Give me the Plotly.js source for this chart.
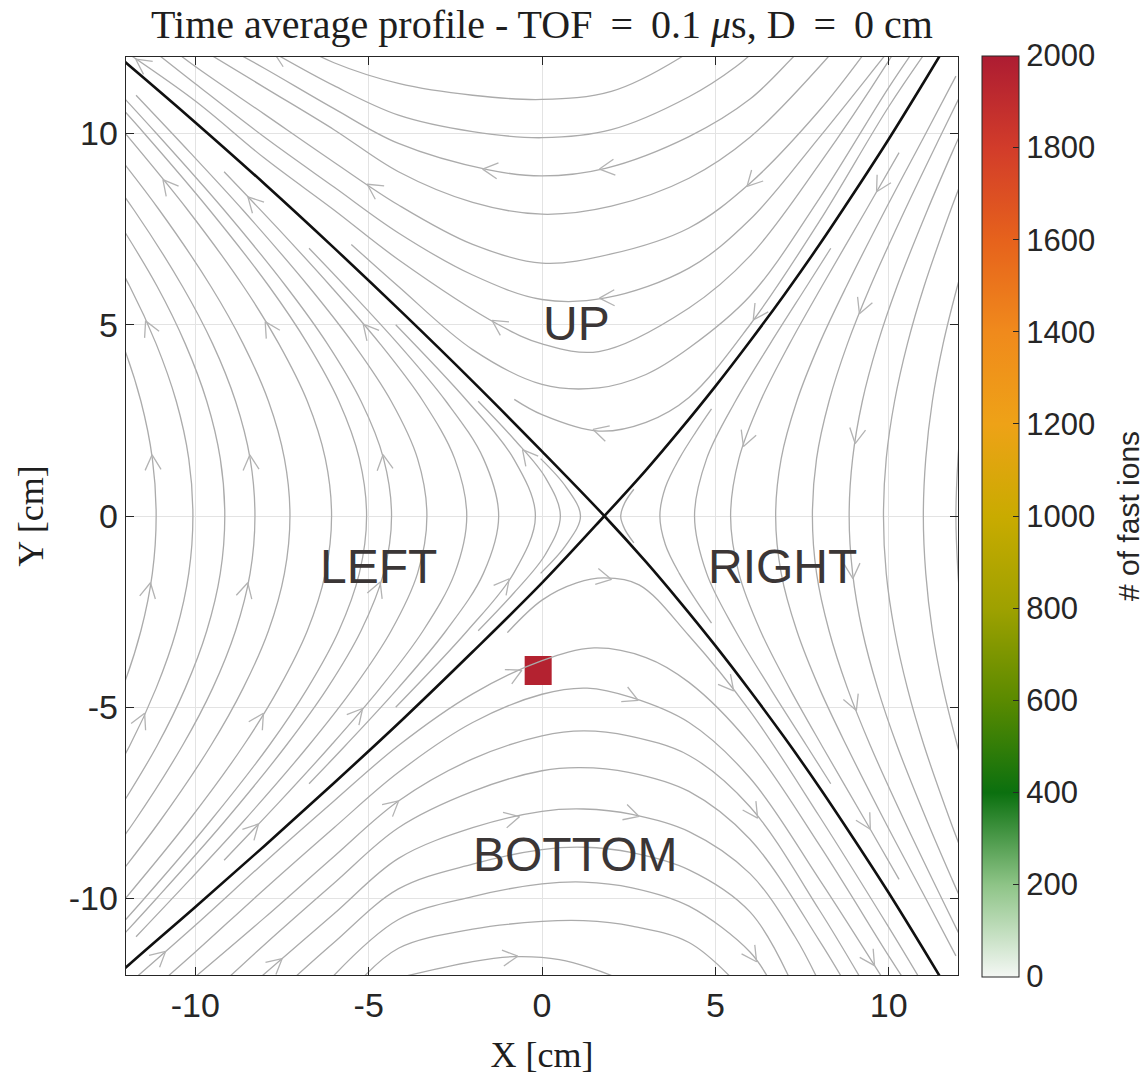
<!DOCTYPE html>
<html>
<head>
<meta charset="utf-8">
<script src="https://cdn.plot.ly/plotly-3.0.1.min.js"></script>
<style>html,body{margin:0;padding:0;background:#fff;}</style>
</head>
<body>
<div id="chart" style="width:1145px;height:1075px;"></div>
<script>
// ---- Separatrices crossing at the X-point ----
const sepAX = [-12.5, -12, -10, -8, -6, -4, -2, 0, 1.8, 3, 4, 5, 6, 7, 8, 9, 10, 11, 11.6];
const sepAY = [12.23, 11.85, 10.29, 8.68, 7.01, 5.29, 3.52, 1.69, 0, -1.2, -2.27, -3.39, -4.57, -5.8, -7.09, -8.45, -9.85, -11.32, -12.22];
const sepBX = [-12.5, -12, -10, -8, -6, -4, -2, 0, 1.8, 3, 4, 5, 6, 7, 8, 9, 10, 11, 11.6];
const sepBY = [-12.23, -11.8, -10.22, -8.62, -6.98, -5.3, -3.55, -1.75, 0, 1.2, 2.27, 3.39, 4.57, 5.8, 7.09, 8.45, 9.85, 11.32, 12.22];

// ---- Field lines above the X-point (flowing right to left) ----
const upX = [
  [-7.2, -6, -4.14, -2, 0, 2, 3.95, 4.6],
  [-8.3, -6, -4.14, -2, 0, 2, 4.24, 5.6, 6.3],
  [-9.3, -8, -6, -4.14, -1.54, 0, 1.83, 4.24, 6, 7.3, 7.8],
  [-10, -8, -6, -4.14, -2, 0, 2, 4.24, 6, 8.3, 8.8],
  [-10.8, -10, -8, -6, -4.14, -2, 0, 2, 4.24, 6, 8, 9.3],
  [-11.4, -10, -8, -6, -4.14, -2, 0, 1.83, 4.24, 6, 8, 9.9, 10.3],
  [-12.2, -10, -8, -6, -4.14, -1.25, 0, 1.64, 4.24, 6, 8, 10, 10.4],
  [-5.5, -4.14, -2, 0, 1.64, 3, 4.24, 6, 8, 10, 10.9],
  [-0.8, 0, 1.64, 3, 4.24, 6, 8, 10, 11.2]
];
const upY = [
  [12.4, 11.85, 11.31, 11.0, 10.89, 11.1, 11.96, 12.4],
  [12.4, 11.25, 10.48, 10.05, 9.89, 10.1, 10.96, 11.75, 12.3],
  [12.35, 11.7, 10.65, 9.74, 9.05, 8.89, 9.09, 9.92, 10.9, 12.05, 12.5],
  [12.3, 11.2, 10.1, 9.0, 8.2, 7.89, 8.1, 8.83, 9.9, 12.05, 12.6],
  [12.3, 11.75, 10.5, 9.25, 8.13, 7.1, 6.61, 6.85, 7.53, 8.7, 10.6, 12.1],
  [12.3, 11.3, 9.9, 8.6, 7.4, 6.3, 5.66, 5.7, 6.48, 7.75, 9.9, 12.05, 12.5],
  [12.25, 10.85, 9.35, 8.0, 6.7, 5.0, 4.5, 4.3, 5.44, 6.8, 9.2, 11.9, 12.5],
  [7.1, 6.0, 4.35, 3.44, 3.35, 3.7, 4.39, 5.75, 8.3, 11.2, 12.4],
  [3.05, 2.65, 2.22, 2.45, 3.1, 5.0, 7.7, 10.7, 12.3]
];

// ---- Field lines below the X-point (flowing left to right) ----
const bottomX = [
  [-1.0, 0, 1.0, 1.8, 2.8, 4.24, 6, 8, 10, 10.9],
  [-12.2, -10, -8, -6, -4.14, -2, 0, 1.5, 3, 4.24, 6, 8, 10, 10.5],
  [-11, -10, -8, -6, -4.14, -2, 0, 1.3, 2.6, 4.24, 6, 8, 9.8],
  [-10.2, -8, -6, -4.14, -2, 0, 1.2, 2.5, 4.24, 6, 8, 9.2],
  [-9.2, -8, -6, -4.14, -2, 0, 1.1, 2.5, 4.24, 6, 8, 8.8],
  [-8.3, -6, -4.14, -2, 0, 1.2, 2.6, 4.24, 6, 7.3, 8.0],
  [-7.3, -6, -4.14, -2, 0, 1.2, 2.6, 4.24, 6, 7.2],
  [-6.2, -4.14, -2, 0, 1.2, 2.6, 4.24, 6, 6.6],
  [-5.3, -4.14, -2, 0, 1.2, 2.6, 4.24, 5.6],
  [-4.5, -2, -0.8, 0.5, 2.1, 2.6]
];
const bottomY = [
  [-3.05, -2.2, -1.75, -1.62, -1.8, -3.13, -5.1, -7.85, -10.75, -12.1],
  [-12.45, -10.7, -9.05, -7.45, -6.0, -4.65, -3.78, -3.45, -3.7, -4.35, -5.95, -8.6, -11.5, -12.2],
  [-12.2, -11.4, -9.75, -8.15, -6.7, -5.4, -4.66, -4.5, -4.75, -5.4, -6.85, -9.5, -12.05],
  [-12.2, -10.5, -8.9, -7.45, -6.35, -5.75, -5.62, -5.75, -6.26, -7.6, -10.3, -12.1],
  [-12.2, -11.2, -9.6, -8.15, -7.2, -6.66, -6.58, -6.7, -7.2, -8.45, -11.1, -12.3],
  [-12.2, -10.4, -8.95, -8.15, -7.72, -7.66, -7.8, -8.25, -9.35, -11.0, -12.2],
  [-12.2, -11.15, -9.75, -9.1, -8.72, -8.66, -8.8, -9.25, -10.35, -12.2],
  [-12.2, -10.55, -9.95, -9.62, -9.57, -9.72, -10.2, -11.4, -12.2],
  [-12.2, -11.3, -10.8, -10.6, -10.58, -10.72, -11.15, -12.2],
  [-12.15, -11.65, -11.52, -11.6, -12.05, -12.3]
];

// ---- Field lines left of the X-point (flowing upward) ----
const leftX = [
  [-12.82, -12.1, -11.57, -11.24, -11.13, -11.24, -11.57, -12.1, -12.82],
  [-13.15, -11.89, -11.13, -10.55, -10.19, -10.07, -10.19, -10.55, -11.13, -11.89, -13.15],
  [-12.43, -11.1, -10.29, -9.67, -9.28, -9.15, -9.28, -9.67, -10.29, -11.1, -12.43],
  [-13.39, -11.77, -10.37, -9.5, -8.84, -8.42, -8.28, -8.42, -8.84, -9.5, -10.37, -11.77, -13.39],
  [-12.74, -11.04, -9.55, -8.62, -7.89, -7.43, -7.27, -7.43, -7.89, -8.62, -9.55, -11.04, -12.74],
  [-12.97, -12.02, -10.22, -8.61, -7.59, -6.77, -6.25, -6.07, -6.25, -6.77, -7.59, -8.61, -10.22, -12.02, -12.97],
  [-12.46, -11.47, -9.59, -7.87, -6.76, -5.86, -5.27, -5.06, -5.27, -5.86, -6.76, -7.87, -9.59, -11.47, -12.46],
  [-12.64, -11.12, -9.17, -7.38, -6.19, -5.22, -4.57, -4.34, -4.57, -5.22, -6.19, -7.38, -9.17, -11.12, -12.64],
  [-11.71, -10.15, -8.63, -6.73, -5.44, -4.35, -3.59, -3.32, -3.59, -4.35, -5.44, -6.73, -8.63, -10.15, -11.71],
  [-9.17, -7.6, -6.09, -4.67, -3.43, -2.52, -2.17, -2.52, -3.43, -4.67, -6.09, -7.6, -9.17],
  [-6.72, -5.67, -4.15, -2.77, -1.69, -1.25, -1.69, -2.77, -4.15, -5.67, -6.72],
  [-4.22, -2.15, -0.82, -0.19, -0.82, -2.15, -4.22],
  [-1.84, -0.8, 0.1, 0.53, 0.1, -0.8, -1.84],
  [-0.04, 0.7, 1.11, 0.7, -0.04]
];
const leftY = [
  [-6, -4.5, -3, -1.5, 0, 1.5, 3, 4.5, 6],
  [-8, -6, -4.5, -3, -1.5, 0, 1.5, 3, 4.5, 6, 8],
  [-8, -6, -4.5, -3, -1.5, 0, 1.5, 3, 4.5, 6, 8],
  [-10, -8, -6, -4.5, -3, -1.5, 0, 1.5, 3, 4.5, 6, 8, 10],
  [-10, -8, -6, -4.5, -3, -1.5, 0, 1.5, 3, 4.5, 6, 8, 10],
  [-11, -10, -8, -6, -4.5, -3, -1.5, 0, 1.5, 3, 4.5, 6, 8, 10, 11],
  [-11, -10, -8, -6, -4.5, -3, -1.5, 0, 1.5, 3, 4.5, 6, 8, 10, 11],
  [-11.5, -10, -8, -6, -4.5, -3, -1.5, 0, 1.5, 3, 4.5, 6, 8, 10, 11.5],
  [-11, -9.5, -8, -6, -4.5, -3, -1.5, 0, 1.5, 3, 4.5, 6, 8, 9.5, 11],
  [-9, -7.5, -6, -4.5, -3, -1.5, 0, 1.5, 3, 4.5, 6, 7.5, 9],
  [-7, -6, -4.5, -3, -1.5, 0, 1.5, 3, 4.5, 6, 7],
  [-5, -3, -1.5, 0, 1.5, 3, 5],
  [-3, -2, -1, 0, 1, 2, 3],
  [-1.5, -0.75, 0, 0.75, 1.5]
];

// ---- Field lines right of the X-point (flowing downward) ----
const rightX = [
  [2.65, 2.39, 2.27, 2.39, 2.65],
  [4.89, 4.44, 3.96, 3.56, 3.4, 3.56, 3.96, 4.44, 4.89],
  [8.33, 7.63, 6.58, 5.58, 4.75, 4.4, 4.75, 5.58, 6.58, 7.63, 8.33],
  [10.3, 9.35, 8.07, 7.14, 6.3, 5.68, 5.44, 5.68, 6.3, 7.14, 8.07, 9.35, 10.3],
  [11.94, 11.07, 9.9, 8.78, 8.0, 7.35, 6.9, 6.74, 6.9, 7.35, 8.0, 8.78, 9.9, 11.07, 11.94],
  [12.07, 11.53, 10.47, 9.47, 8.81, 8.28, 7.92, 7.8, 7.92, 8.28, 8.81, 9.47, 10.47, 11.53, 12.07],
  [12.32, 11.83, 11.12, 10.24, 9.68, 9.24, 8.96, 8.86, 8.96, 9.24, 9.68, 10.24, 11.12, 11.83, 12.32],
  [12.21, 11.79, 11.02, 10.54, 10.17, 9.93, 9.85, 9.93, 10.17, 10.54, 11.02, 11.79, 12.21],
  [12.29, 11.98, 11.57, 11.26, 11.07, 11.0, 11.07, 11.26, 11.57, 11.98, 12.29],
  [12.09, 12.0, 11.94, 12.0, 12.09]
];
const rightY = [
  [-0.7, -0.35, 0, 0.35, 0.7],
  [-2.8, -2.2, -1.5, -0.75, 0, 0.75, 1.5, 2.2, 2.8],
  [-7, -6, -4.5, -3, -1.5, 0, 1.5, 3, 4.5, 6, 7],
  [-9.5, -8, -6, -4.5, -3, -1.5, 0, 1.5, 3, 4.5, 6, 8, 9.5],
  [-11.5, -10, -8, -6, -4.5, -3, -1.5, 0, 1.5, 3, 4.5, 6, 8, 10, 11.5],
  [-11, -10, -8, -6, -4.5, -3, -1.5, 0, 1.5, 3, 4.5, 6, 8, 10, 11],
  [-10.5, -9.5, -8, -6, -4.5, -3, -1.5, 0, 1.5, 3, 4.5, 6, 8, 9.5, 10.5],
  [-9, -8, -6, -4.5, -3, -1.5, 0, 1.5, 3, 4.5, 6, 8, 9],
  [-7, -6, -4.5, -3, -1.5, 0, 1.5, 3, 4.5, 6, 7],
  [-2.5, -1.5, 0, 1.5, 2.5]
];

// ---- Flow arrows: approximate position and heading (degrees) ----
const arrowX = [-11.5, -7.7, -4.91, -1.54, 1.83, 1.83, -1.25, 1.64, 6.07, 6.12,
  -10.79, -8.4, -11.36, -7.8, -4.91, -11.27, -8.43, -4.62, -0.58, -11.27, -8.47, -4.62, -11.51, -8.09, -5.2, -8.28, -0.96,
  -4.33, -11.07, -7.7, 1.83, -0.77, 2.6, -0.87, 2.6, -0.87, 5.49, 6.02, 5.97, 9.54,
  9.49, 9.34, 5.88, 9.05, 8.96, 9.2, 9.49];
const arrowY = [11.95, 11.85, 8.57, 9.05, 9.09, 5.7, 5.09, 2.22, 8.7, 5.3,
  8.7, 8.2, 4.96, 5.0, 5.0, 1.44, 1.44, 1.44, 1.52, -1.91, -1.91, -1.91, -5.31, -5.31, -5.22, -8.18, -1.83,
  -7.48, -11.4, -11.6, -1.65, -4.04, -4.79, -7.7, -7.92, -11.53, -4.4, -7.83, -11.6, -11.6,
  8.74, 5.39, 1.96, 2.05, -1.48, -4.87, -8.0];
const arrowDir = [140, 150, 155, 180, 185, 185, 165, 185, 225, 225,
  130, 130, 100, 100, 110, 90, 90, 90, 115, 85, 85, 80, 70, 70, 60, 55, 60,
  30, 40, 35, 0, 10, -10, 5, -5, 3, -45, -45, -50, -55,
  250, 260, 265, 270, 270, 280, 290];

// ---- Fast-ion histogram cell ----
const ionX = [-0.11];
const ionY = [-4.04];
const ionCount = [[1960]];
const ionCellW = 0.78, ionCellH = 0.76;

// ---- Region labels ----
const regionText = ['UP', 'LEFT', 'RIGHT', 'BOTTOM'];
const regionX = [1.0, -4.72, 6.94, 0.94];
const regionY = [5.03, -1.33, -1.33, -8.85];

// ---- Axes and colour bar ----
const axisTicks = [-10, -5, 0, 5, 10];
const axisTickText = ['-10', '-5', '0', '5', '10'];
const cbTicks = [0, 200, 400, 600, 800, 1000, 1200, 1400, 1600, 1800, 2000];
const colorStops = [0, 0.1, 0.2, 0.3, 0.4, 0.5, 0.6, 0.7, 0.8, 0.9, 1];
const colorList = ['#f4f7f4', '#8ec487', '#0b700f', '#5a8a00', '#9ea100', '#c9ab00',
                   '#eea217', '#f08a1c', '#e6621c', '#d23c2a', '#ad1c32'];

const W = 1145, H = 1075;
const M = {l: 126, r: 187, t: 57, b: 100};
const X_RANGE = [-12, 12], Y_RANGE = [-12, 12];
const PW = W - M.l - M.r, PH = H - M.t - M.b;
const KX = PW / (X_RANGE[1] - X_RANGE[0]);
const KY = PH / (Y_RANGE[1] - Y_RANGE[0]);

const STREAM = '#ababab';
const traces = [];
const polylines = [];

function addLines(X, Y) {
  X.forEach((xs, i) => {
    polylines.push({x: xs, y: Y[i]});
    traces.push({
      type: 'scatter', mode: 'lines', x: xs, y: Y[i],
      line: {color: STREAM, width: 1.3, shape: 'spline', smoothing: 1},
      hoverinfo: 'skip', showlegend: false
    });
  });
}
addLines(upX, upY);
addLines(bottomX, bottomY);
addLines(leftX, leftY);
addLines(rightX, rightY);

// Open chevron placed on the nearest field line, aligned with its local direction
function chevron(px0, py0, dirDeg) {
  const px = px0 * KX, py = -py0 * KY;
  let best = null, bd = Infinity;
  for (const ln of polylines) {
    for (let i = 0; i < ln.x.length - 1; i++) {
      const x1 = ln.x[i] * KX, y1 = -ln.y[i] * KY;
      const x2 = ln.x[i + 1] * KX, y2 = -ln.y[i + 1] * KY;
      const dx = x2 - x1, dy = y2 - y1, L2 = dx * dx + dy * dy;
      let t = ((px - x1) * dx + (py - y1) * dy) / L2;
      t = Math.max(0, Math.min(1, t));
      const qx = x1 + t * dx, qy = y1 + t * dy;
      const d = (px - qx) ** 2 + (py - qy) ** 2;
      if (d < bd) { bd = d; best = {qx, qy, dx, dy}; }
    }
  }
  const L = Math.hypot(best.dx, best.dy);
  let tx = best.dx / L, ty = best.dy / L;
  const rx = Math.cos(dirDeg * Math.PI / 180), ry = -Math.sin(dirDeg * Math.PI / 180);
  if (tx * rx + ty * ry < 0) { tx = -tx; ty = -ty; }
  const tipX = best.qx + 6 * tx, tipY = best.qy + 6 * ty;
  const arm = 17, half = 28 * Math.PI / 180;
  const bx = -tx, by = -ty;
  const e1x = tipX + arm * (bx * Math.cos(half) - by * Math.sin(half));
  const e1y = tipY + arm * (bx * Math.sin(half) + by * Math.cos(half));
  const e2x = tipX + arm * (bx * Math.cos(-half) - by * Math.sin(-half));
  const e2y = tipY + arm * (bx * Math.sin(-half) + by * Math.cos(-half));
  return {
    x: [e1x / KX, tipX / KX, e2x / KX],
    y: [-e1y / KY, -tipY / KY, -e2y / KY]
  };
}

const chevX = [], chevY = [];
arrowX.forEach((x0, k) => {
  const c = chevron(x0, arrowY[k], arrowDir[k]);
  chevX.push(...c.x, null);
  chevY.push(...c.y, null);
});
traces.push({
  type: 'scatter', mode: 'lines', x: chevX, y: chevY,
  line: {color: '#b3b3b3', width: 1.3}, hoverinfo: 'skip', showlegend: false
});

// Separatrices
[[sepAX, sepAY], [sepBX, sepBY]].forEach(([sx, sy]) => {
  traces.push({
    type: 'scatter', mode: 'lines', x: sx, y: sy,
    line: {color: '#101010', width: 2.6, shape: 'spline', smoothing: 1},
    hoverinfo: 'skip', showlegend: false
  });
});

// Fast-ion counts
traces.push({
  type: 'heatmap', z: ionCount,
  x0: ionX[0], dx: ionCellW, y0: ionY[0], dy: ionCellH,
  zmin: 0, zmax: 2000,
  colorscale: colorStops.map((s, i) => [s, colorList[i]]),
  hoverinfo: 'skip',
  colorbar: {
    x: 1 + 24 / PW, xanchor: 'left',
    y: 0.5, yanchor: 'middle', len: 1.003, lenmode: 'fraction',
    thickness: 37, thicknessmode: 'pixels',
    xpad: 0, ypad: 0,
    outlinewidth: 1, outlinecolor: '#262626',
    ticks: 'inside', ticklen: 6, tickwidth: 1, tickcolor: '#262626',
    tickvals: cbTicks, ticktext: cbTicks.map(String),
    tickfont: {family: 'Liberation Sans, Arial, sans-serif', size: 31, color: '#262626'},
    title: {text: ''}
  }
});

const tickFont = {family: 'Liberation Sans, Arial, sans-serif', size: 34, color: '#262626'};
const serif = 'Liberation Serif, Times New Roman, serif';

function axis(titleText, standoff) {
  return {
    range: X_RANGE.slice(),
    tickvals: axisTicks, ticktext: axisTickText,
    ticks: 'inside', ticklen: 8, tickwidth: 1, tickcolor: '#262626',
    showline: true, linecolor: '#262626', linewidth: 1.3, mirror: 'allticks',
    showgrid: true, gridcolor: '#e3e3e3', gridwidth: 1,
    zeroline: false, tickfont: tickFont,
    title: {text: titleText, font: {family: serif, size: 36, color: '#1e1e1e'}, standoff: standoff},
    fixedrange: true
  };
}

const annotations = regionText.map((t, i) => ({
  x: regionX[i], y: regionY[i], xref: 'x', yref: 'y',
  text: t, showarrow: false, xanchor: 'center', yanchor: 'middle',
  font: {family: 'Liberation Sans, Arial, sans-serif', size: 48, color: '#3b3636'}
}));
// Colour-bar caption
annotations.push({
  x: (1128 - M.l) / PW, y: 0.5, xref: 'paper', yref: 'paper',
  text: '# of fast ions', textangle: -90, showarrow: false,
  xanchor: 'center', yanchor: 'middle',
  font: {family: 'Liberation Sans, Arial, sans-serif', size: 30, color: '#262626'}
});

const layout = {
  width: W, height: H, margin: M,
  paper_bgcolor: '#ffffff', plot_bgcolor: '#ffffff',
  showlegend: false, hovermode: false,
  title: {
    text: 'Time average profile - TOF \u2009=\u2009 0.1 <i>\u03bc</i>s, D \u2009=\u2009 0 cm',
    font: {family: serif, size: 40, color: '#1e1e1e'},
    x: 0.5, xref: 'paper', xanchor: 'center',
    y: 1 - 24 / H, yref: 'container', yanchor: 'middle'
  },
  xaxis: axis('X [cm]', 19),
  yaxis: Object.assign(axis('Y [cm]', 14), {range: Y_RANGE.slice()}),
  annotations: annotations
};

Plotly.newPlot('chart', traces, layout, {staticPlot: true, displayModeBar: false});
</script>
</body>
</html>
